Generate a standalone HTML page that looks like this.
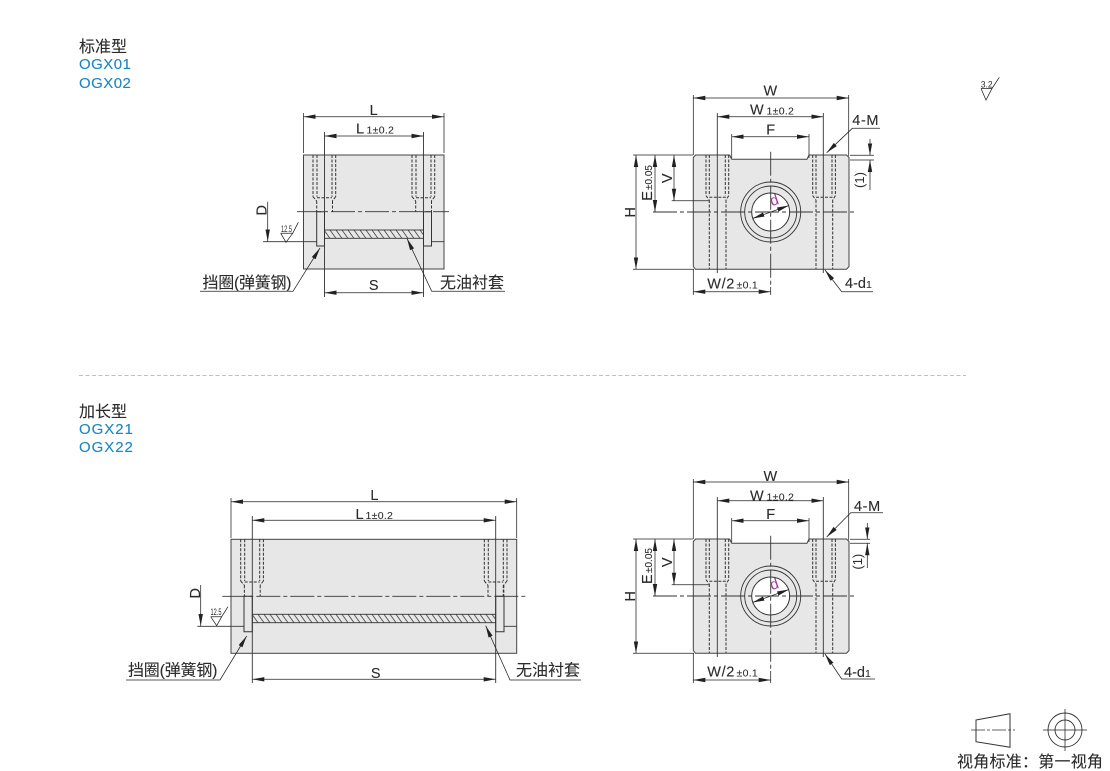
<!DOCTYPE html>
<html lang="zh"><head><meta charset="utf-8"><title>OGX</title>
<style>
html,body{margin:0;padding:0;background:#fff}
svg{display:block}
text{font-family:"Liberation Sans","Noto Sans CJK SC",sans-serif;fill:#2b2b2b}
.m{text-anchor:middle}
.b{font-size:14.5px;letter-spacing:.6px;stroke:#2b2b2b;stroke-width:.12}
.s{font-size:10.5px;letter-spacing:.3px;stroke:#2b2b2b;stroke-width:.08}
.c{font-size:16px;stroke:#2b2b2b;stroke-width:.1}
.h{font-size:15px;fill:#1a86c2;letter-spacing:.45px;stroke:#1a86c2;stroke-width:.12}
.l{fill:none;stroke:#333;stroke-width:.9}
.t{fill:none;stroke:#222;stroke-width:.75}
.f{fill:#e7e7e8;stroke:#444;stroke-width:1}
.d{fill:none;stroke:#333;stroke-width:1;stroke-dasharray:3 1.5}
.cl{fill:none;stroke:#333;stroke-width:.9;stroke-dasharray:24 3 4 3}
.r{font-size:9.5px}
</style></head><body>
<svg width="1110" height="771" viewBox="0 0 1110 771" xmlns="http://www.w3.org/2000/svg">
<defs>
<marker id="a" markerUnits="userSpaceOnUse" markerWidth="13" markerHeight="6" refX="12" refY="3" orient="auto-start-reverse"><path d="M0 .8L12 3L0 5.2z" fill="#222"/></marker>
<pattern id="hp" patternUnits="userSpaceOnUse" width="6" height="8.4" y="230"><path d="M-1 -1.4L7 9.8M-7 -1.4L1 9.8M5 -1.4L13 9.8" stroke="#444" stroke-width=".8"/></pattern>
<pattern id="hq" patternUnits="userSpaceOnUse" width="6" height="8.4" y="614.3"><path d="M-1 -1.4L7 9.8M-7 -1.4L1 9.8M5 -1.4L13 9.8" stroke="#444" stroke-width=".8"/></pattern>
<g id="sh"><path class="d" d="M0 0V41.700M4 0V41.700M19 0V41.700M22.700 0V41.700M0 41.700L3.700 46M22.700 41.700L19.300 46M4 42.700H19M3.700 46V57M19.500 46V57"/></g>
<g id="fh"><path class="d" d="M0 0V40.700M3.300 0V40.700M19.300 0V40.700M22.700 0V40.700M0 40.700L3.300 45M22.700 40.700L20 45M3.300 42.300H20M3.300 45V114M20 45V114"/></g>
<g id="fv">
<path class="f" d="M695.500 155H729.700L731.700 159.300H807L809 155H846.500L849 157.500V266.500L846.500 269.300H695.500L693.300 266.500V157.500z"/>
<use href="#fh" x="706" y="155"/><use href="#fh" x="812.700" y="155"/>
<circle cx="770.700" cy="212" r="30" class="l"/><circle cx="770.700" cy="212" r="26" class="l"/>
<circle cx="770.700" cy="212" r="19" fill="#fff" stroke="#333" stroke-width="1"/>
<path class="cl" d="M653 212H856"/>
<path class="cl" d="M770.700 151.700V287"/>
<path class="t" d="M693.300 95V155M848.700 95V156M731.700 134V158M809 134V158M633 155H693M633 269.300H694M671.700 200.700H709"/>
<path class="l" d="M717.300 113V273M823.300 113V273"/>
<path class="t" marker-start="url(#a)" marker-end="url(#a)" d="M693.300 98H848.700"/>
<path class="t" marker-start="url(#a)" marker-end="url(#a)" d="M717.300 116.700H823.300"/>
<path class="t" marker-start="url(#a)" marker-end="url(#a)" d="M731.700 136.700H809"/>
<path class="t" marker-start="url(#a)" marker-end="url(#a)" d="M636 155V269.300"/>
<path class="t" marker-start="url(#a)" marker-end="url(#a)" d="M655 155V212"/>
<path class="t" marker-start="url(#a)" marker-end="url(#a)" d="M674 155V200.700"/>
<path class="t" marker-start="url(#a)" marker-end="url(#a)" d="M752.500 218.500L789 205.500"/>
</g>
</defs>

<text x="79" y="52" class="c">标准型</text>
<text x="79" y="69" class="h">OGX01</text>
<text x="79" y="88" class="h">OGX02</text>
<text x="79" y="417" class="c">加长型</text>
<text x="79" y="434" class="h" style="letter-spacing:.95px">OGX21</text>
<text x="79" y="452" class="h" style="letter-spacing:.95px">OGX22</text>

<path d="M79 375.500H966" stroke="#aaa" stroke-width=".8" stroke-dasharray="4 2.500" fill="none"/>

<!-- 3.2 -->
<text x="986.700" y="87.500" class="m r" textLength="12" lengthAdjust="spacingAndGlyphs">3.2</text>
<path class="t" d="M981 88.500H992M981 88.500L986 100L992 88.500L999.300 77.300"/>

<!-- side view 1 -->
<rect x="303.500" y="155" width="140.500" height="114" class="f"/>
<use href="#sh" x="313" y="155"/><use href="#sh" x="412" y="155"/>
<path class="d" d="M431.500 201V241"/>
<rect x="324.500" y="230" width="99" height="8.300" fill="url(#hp)" stroke="#333" stroke-width=".9"/>
<path class="l" d="M263 241.700H316.700M431.500 241.700H444"/>
<path class="f" style="stroke:#333" d="M316.700 211.700H324.500V246H316.700zM423.500 211.700H431.500V246H423.500z"/>
<path class="cl" d="M297 211.700H449"/>
<path class="t" d="M303.500 113V153M444 113V153"/>
<path class="l" d="M324.500 132V297M423.500 132V297"/>
<path class="t" marker-start="url(#a)" marker-end="url(#a)" d="M303.500 116.700H444"/>
<path class="t" marker-start="url(#a)" marker-end="url(#a)" d="M324.500 136H423.500"/>
<path class="t" marker-start="url(#a)" marker-end="url(#a)" d="M324.500 292.700H423.500"/>
<path class="t" marker-end="url(#a)" d="M267.700 201.700V241.500"/>
<path class="t" d="M280.700 233.300H292.700L286 242.300L280.700 233.300M292.700 233.300L298.300 222.300"/>
<text x="286.500" y="232" class="m r" textLength="11" lengthAdjust="spacingAndGlyphs">12.5</text>
<path class="t" marker-end="url(#a)" d="M200 291.300H293L320 248"/>
<path class="t" marker-end="url(#a)" d="M505 291.300H431.700L407 238.500"/>
<text x="374" y="115" class="m b">L</text>
<text x="356" y="133.700" class="b">L</text><text x="366.500" y="133.700" class="s">1±0.2</text>
<text x="374" y="290" class="m b">S</text>
<text transform="translate(266.700 210) rotate(-90)" class="m b">D</text>
<text x="202.500" y="288" class="c" textLength="89">挡圈(弹簧钢)</text>
<text x="440" y="288" class="c">无油衬套</text>

<!-- front view 1 -->
<use href="#fv"/>
<path class="t" marker-start="url(#a)" d="M870 155.300V139"/>
<path class="t" marker-start="url(#a)" d="M870 160V190"/>
<path class="t" d="M850 155.300H874M850 160H874"/>
<path class="t" marker-end="url(#a)" d="M880 128.300H852.300L826.700 152.700"/>
<path class="t" marker-end="url(#a)" d="M873 291.700H841.700L825 270"/>
<path class="t" d="M693.300 269.300V295M770.700 287V295"/>
<path class="t" marker-start="url(#a)" marker-end="url(#a)" d="M693.300 291.700H770.700"/>
<text x="770.700" y="95.700" class="m b">W</text>
<text x="750" y="114.300" class="b">W</text><text x="766.500" y="114.300" class="s">1±0.2</text>
<text x="771" y="134.300" class="m b">F</text>
<text x="852.300" y="125" class="b">4-M</text>
<text x="707.300" y="288.300" class="b">W/2</text><text x="736.500" y="288.300" class="s">±0.1</text>
<text x="845" y="288" class="b" style="letter-spacing:0">4-d</text><text x="866" y="288" class="s">1</text>
<text transform="translate(635 212) rotate(-90)" class="m b">H</text>
<text transform="translate(652 200.700) rotate(-90)" class="b">E</text><text transform="translate(652 190) rotate(-90)" class="s" style="font-size:10px;letter-spacing:0">±0.05</text>
<text transform="translate(672 178) rotate(-90)" class="m b">V</text>
<text transform="translate(864 180) rotate(-90)" class="m" style="font-size:13px">(1)</text>
<text transform="translate(775.700 205) rotate(-18)" class="m" style="font-size:15px;fill:#a2389a">d</text>

<!-- side view 2 -->
<rect x="231" y="539.300" width="285.700" height="114" class="f"/>
<use href="#sh" x="240.700" y="539.300"/><use href="#sh" x="484.300" y="539.300"/>
<path class="d" d="M503.300 585V626"/>
<rect x="252.300" y="614.300" width="243.400" height="8.400" fill="url(#hq)" stroke="#333" stroke-width=".9"/>
<path class="l" d="M197.300 626.300H244M504 626.300H516.700"/>
<path class="f" style="stroke:#333" d="M244 596.300H252.300V631.700H244zM495.700 596.300H504V631.700H495.700z"/>
<path class="cl" d="M222.300 596.300H527.300"/>
<path class="t" d="M231 498V538M516.700 498V538"/>
<path class="l" d="M252.300 516V683M495.700 516V683"/>
<path class="t" marker-start="url(#a)" marker-end="url(#a)" d="M231 501.700H516.700"/>
<path class="t" marker-start="url(#a)" marker-end="url(#a)" d="M252.300 520.300H495.700"/>
<path class="t" marker-start="url(#a)" marker-end="url(#a)" d="M252.300 679.300H495.700"/>
<path class="t" marker-end="url(#a)" d="M200.700 585V626"/>
<path class="t" d="M210.700 616.700H221.700L216.700 625.700L210.700 616.700M221.700 616.700L228 606.700"/>
<text x="216" y="615" class="m r" textLength="11" lengthAdjust="spacingAndGlyphs">12.5</text>
<path class="t" marker-end="url(#a)" d="M126 680H220L246.700 636"/>
<path class="t" marker-end="url(#a)" d="M581 680H510L485.700 625.700"/>
<text x="374.700" y="500" class="m b">L</text>
<text x="355.500" y="519" class="b">L</text><text x="365.500" y="519" class="s">1±0.2</text>
<text x="376" y="678" class="m b">S</text>
<text transform="translate(200 593) rotate(-90)" class="m b">D</text>
<text x="128" y="675.500" class="c" textLength="89.500">挡圈(弹簧钢)</text>
<text x="516" y="675.500" class="c">无油衬套</text>

<!-- front view 2 -->
<use href="#fv" y="384"/>
<path class="t" marker-start="url(#a)" d="M867.300 539.300V523"/>
<path class="t" marker-start="url(#a)" d="M867.300 543.300V568"/>
<path class="t" d="M850 539.300H870M850 543.300H870"/>
<path class="t" marker-end="url(#a)" d="M883 512.700H850.700L826.700 537"/>
<path class="t" marker-end="url(#a)" d="M875 679H841.700L825 654"/>
<path class="t" d="M693.300 653V683M770.700 671V683"/>
<path class="t" marker-start="url(#a)" marker-end="url(#a)" d="M693.300 680H770.700"/>
<text x="770.700" y="481" class="m b">W</text>
<text x="750" y="500.500" class="b">W</text><text x="766.500" y="500.500" class="s">1±0.2</text>
<text x="771" y="519" class="m b">F</text>
<text x="854" y="511" class="b">4-M</text>
<text x="707.300" y="676.500" class="b">W/2</text><text x="736.500" y="676.500" class="s">±0.1</text>
<text x="844" y="677" class="b" style="letter-spacing:0">4-d</text><text x="865" y="677" class="s">1</text>
<text transform="translate(635 596) rotate(-90)" class="m b">H</text>
<text transform="translate(652 584) rotate(-90)" class="b">E</text><text transform="translate(652 573) rotate(-90)" class="s" style="font-size:10px;letter-spacing:0">±0.05</text>
<text transform="translate(672 562) rotate(-90)" class="m b">V</text>
<text transform="translate(862 561.700) rotate(-90)" class="m" style="font-size:13px">(1)</text>
<text transform="translate(775.700 589) rotate(-18)" class="m" style="font-size:15px;fill:#a2389a">d</text>

<!-- projection symbol -->
<path d="M976 720L1010 713.700V747.300L976 741.700z" fill="none" stroke="#333" stroke-width="1"/>
<path d="M971 730H1015" fill="none" stroke="#333" stroke-width=".8" stroke-dasharray="14 2 3 2"/>
<circle cx="1065" cy="730" r="17" class="l"/><circle cx="1065" cy="730" r="10" class="l"/>
<path class="t" d="M1043 730H1087M1065 709V751"/>
<text x="957" y="767" class="c" textLength="146">视角标准：第一视角</text>
</svg>
</body></html>
